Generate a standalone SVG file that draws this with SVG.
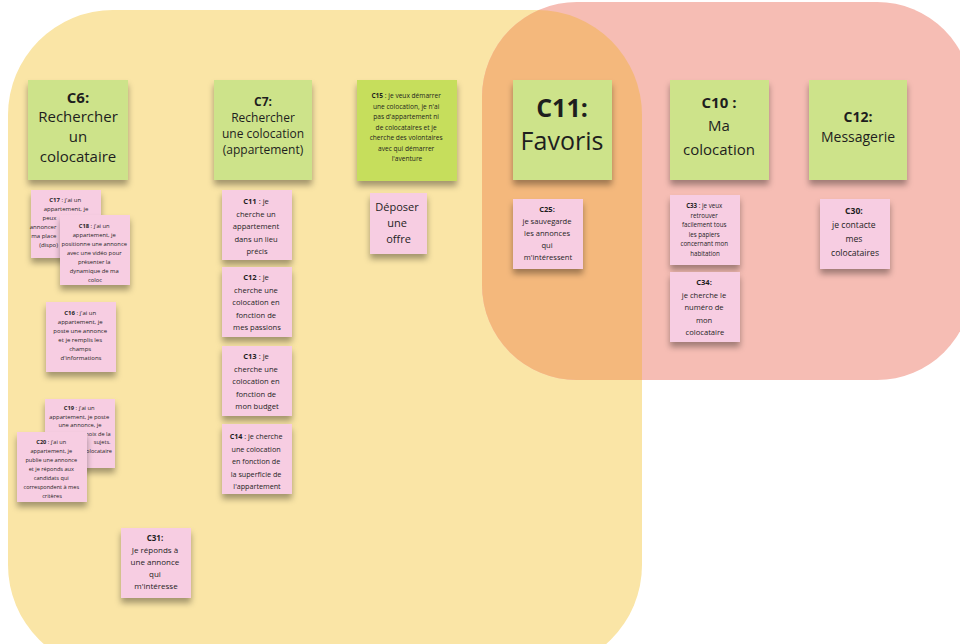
<svg xmlns="http://www.w3.org/2000/svg" width="960" height="644" viewBox="0 0 960 644">
  <defs>
    <style>
      text { font-family: "Open Sans", "Noto Sans", "Liberation Sans", sans-serif; fill: #1e1e1e; text-anchor: middle; }
      .green { fill: #cde38a; }
      .lime { fill: #c6de5c; }
      .pink { fill: #f7cde2; }
      .b { font-weight: 700; }
    </style>
    <filter id="shadow" x="-20%" y="-20%" width="140%" height="150%">
      <feDropShadow dx="0" dy="5" stdDeviation="3" flood-color="#000" flood-opacity="0.35"/>
    </filter>
    <clipPath id="yellowClip">
      <rect x="8" y="10" width="634" height="660" rx="105"/>
    </clipPath>
  </defs>

  <rect width="960" height="644" fill="#ffffff"/>

  <!-- zones -->
  <g id="zones">
    <rect id="zone-search" x="8" y="10" width="634" height="660" rx="105" fill="#fae5a6"/>
    <rect id="zone-coloc" x="482" y="2" width="490" height="378" rx="95" fill="#f6bdb4"/>
    <rect x="482" y="2" width="490" height="378" rx="95" fill="#f4b87c" clip-path="url(#yellowClip)"/>
  </g>

  <!-- headline notes -->
  <g id="c6">
    <rect class="green" x="28" y="80" width="100" height="100" filter="url(#shadow)"/>
    <text x="78" y="103" font-size="15" class="b">C6:</text>
    <text x="78" y="122" font-size="15">Rechercher</text>
    <text x="78" y="142" font-size="15">un</text>
    <text x="78" y="162" font-size="15">colocataire</text>
  </g>
  <g id="c7">
    <rect class="green" x="214" y="80" width="98" height="100" filter="url(#shadow)"/>
    <text x="263" y="106" font-size="12" class="b">C7:</text>
    <text x="263" y="122" font-size="12">Rechercher</text>
    <text x="263" y="138" font-size="12">une colocation</text>
    <text x="263" y="154" font-size="12">(appartement)</text>
  </g>
  <g id="c15">
    <rect class="lime" x="357" y="80" width="100" height="101" filter="url(#shadow)"/>
    <text font-size="6.6">
      <tspan x="407" y="98"><tspan class="b">C15</tspan> : je veux démarrer</tspan>
      <tspan x="407" y="108.5">une colocation, je n'ai</tspan>
      <tspan x="407" y="119">pas d'appartement ni</tspan>
      <tspan x="407" y="129.5">de colocataires et je</tspan>
      <tspan x="407" y="140">cherche des volontaires</tspan>
      <tspan x="407" y="150.5">avec qui démarrer</tspan>
      <tspan x="407" y="161">l'aventure</tspan>
    </text>
  </g>
  <g id="c11">
    <rect class="green" x="513" y="80" width="99" height="100" filter="url(#shadow)"/>
    <text x="562" y="117" font-size="25" class="b">C11:</text>
    <text x="562" y="150" font-size="25">Favoris</text>
  </g>
  <g id="c10">
    <rect class="green" x="670" y="80" width="99" height="100" filter="url(#shadow)"/>
    <text x="719" y="108" font-size="15" class="b">C10 :</text>
    <text x="719" y="131" font-size="15">Ma</text>
    <text x="719" y="155" font-size="15">colocation</text>
  </g>
  <g id="c12">
    <rect class="green" x="809" y="80" width="98" height="100" filter="url(#shadow)"/>
    <text x="858" y="122" font-size="14" class="b">C12:</text>
    <text x="858" y="142" font-size="14">Messagerie</text>
  </g>

  <!-- user stories: owner column (C18 and C20 lie over C17 and C19) -->
  <g id="us-c17">
    <rect class="pink" x="31" y="190" width="70" height="68" filter="url(#shadow)"/>
    <text font-size="6">
      <tspan x="66" y="202"><tspan class="b">C17</tspan> : j'ai un</tspan>
      <tspan x="66" y="211">appartement, je</tspan>
    </text>
    <text font-size="6" style="text-anchor:end">
      <tspan x="58" y="220">peux</tspan>
      <tspan x="58" y="229">annoncer</tspan>
      <tspan x="58" y="238">ma place</tspan>
      <tspan x="58" y="247">(dispo)</tspan>
    </text>
  </g>
  <g id="us-c18">
    <rect class="pink" x="60" y="215" width="70" height="70" filter="url(#shadow)"/>
    <text font-size="5.8">
      <tspan x="95" y="228"><tspan class="b">C18</tspan> : j'ai un</tspan>
      <tspan x="95" y="237">appartement, je</tspan>
      <tspan x="95" y="246">positionne une annonce</tspan>
      <tspan x="95" y="255">avec une vidéo pour</tspan>
      <tspan x="95" y="264">présenter la</tspan>
      <tspan x="95" y="273">dynamique de ma</tspan>
      <tspan x="95" y="282">coloc</tspan>
    </text>
  </g>
  <g id="us-c16">
    <rect class="pink" x="46" y="302" width="70" height="70" filter="url(#shadow)"/>
    <text font-size="6">
      <tspan x="81" y="315"><tspan class="b">C16</tspan> : j'ai un</tspan>
      <tspan x="81" y="324">appartement, je</tspan>
      <tspan x="81" y="333">poste une annonce</tspan>
      <tspan x="81" y="342">et je remplis les</tspan>
      <tspan x="81" y="351">champs</tspan>
      <tspan x="81" y="360">d'informations</tspan>
    </text>
  </g>
  <g id="us-c19">
    <rect class="pink" x="45" y="399" width="70" height="69" filter="url(#shadow)"/>
    <text font-size="5.8">
      <tspan x="80" y="410"><tspan class="b">C19</tspan> : j'ai un</tspan>
      <tspan x="80" y="418.5">appartement, je poste</tspan>
      <tspan x="80" y="427">une annonce, je</tspan>
    </text>
    <text font-size="5.6" style="text-anchor:end">
      <tspan x="112" y="435.5">choix de la</tspan>
      <tspan x="112" y="444">sujets.</tspan>
      <tspan x="112" y="452.5">colocataire</tspan>
    </text>
  </g>
  <g id="us-c20">
    <rect class="pink" x="17" y="432" width="70" height="70" filter="url(#shadow)"/>
    <text font-size="5.6">
      <tspan x="52" y="444"><tspan class="b">C20</tspan> : j'ai un</tspan>
      <tspan x="52" y="453">appartement, je</tspan>
      <tspan x="52" y="462">publie une annonce</tspan>
      <tspan x="52" y="471">et je réponds aux</tspan>
      <tspan x="52" y="480">candidats qui</tspan>
      <tspan x="52" y="489">correspondent à mes</tspan>
      <tspan x="52" y="498">critères</tspan>
    </text>
  </g>
  <g id="us-c31">
    <rect class="pink" x="121" y="528" width="70" height="70" filter="url(#shadow)"/>
    <text font-size="8">
      <tspan x="156" y="541" class="b">C31:</tspan>
      <tspan x="156" y="553">Je réponds à</tspan>
      <tspan x="156" y="565">une annonce</tspan>
      <tspan x="156" y="577">qui</tspan>
      <tspan x="156" y="589">m'intéresse</tspan>
    </text>
  </g>

  <!-- user stories: seeker column -->
  <g id="us-c11">
    <rect class="pink" x="222" y="190" width="70" height="70" filter="url(#shadow)"/>
    <text font-size="7.6">
      <tspan x="257" y="204"><tspan class="b">C11</tspan> : je</tspan>
      <tspan x="257" y="216.5">cherche un</tspan>
      <tspan x="257" y="229">appartement</tspan>
      <tspan x="257" y="241.5">dans un lieu</tspan>
      <tspan x="257" y="254">précis</tspan>
    </text>
  </g>
  <g id="us-c12">
    <rect class="pink" x="222" y="267" width="70" height="70" filter="url(#shadow)"/>
    <text font-size="7.6">
      <tspan x="257" y="280"><tspan class="b">C12</tspan> : je</tspan>
      <tspan x="257" y="292.5">cherche une</tspan>
      <tspan x="257" y="305">colocation en</tspan>
      <tspan x="257" y="317.5">fonction de</tspan>
      <tspan x="257" y="330">mes passions</tspan>
    </text>
  </g>
  <g id="us-c13">
    <rect class="pink" x="222" y="346" width="70" height="70" filter="url(#shadow)"/>
    <text font-size="7.6">
      <tspan x="257" y="359"><tspan class="b">C13</tspan> : je</tspan>
      <tspan x="257" y="371.5">cherche une</tspan>
      <tspan x="257" y="384">colocation en</tspan>
      <tspan x="257" y="396.5">fonction de</tspan>
      <tspan x="257" y="409">mon budget</tspan>
    </text>
  </g>
  <g id="us-c14">
    <rect class="pink" x="222" y="424" width="70" height="70" filter="url(#shadow)"/>
    <text font-size="7.2">
      <tspan x="257" y="439"><tspan class="b">C14</tspan> : je cherche</tspan>
      <tspan x="257" y="451.5">une colocation</tspan>
      <tspan x="257" y="464">en fonction de</tspan>
      <tspan x="257" y="476.5">la superficie de</tspan>
      <tspan x="257" y="489">l'appartement</tspan>
    </text>
  </g>
  <g id="us-offre">
    <rect class="pink" x="370" y="193" width="57" height="61" filter="url(#shadow)"/>
    <text font-size="11">
      <tspan x="398.5" y="211">Déposer</tspan>
      <tspan x="398.5" y="227">une</tspan>
      <tspan x="398.5" y="243">offre</tspan>
    </text>
  </g>

  <!-- user stories: favourites / my flatshare / messaging -->
  <g id="us-c25">
    <rect class="pink" x="513" y="199" width="70" height="70" filter="url(#shadow)"/>
    <text font-size="7.6">
      <tspan x="548" y="212" class="b">C25:</tspan>
      <tspan x="548" y="224">je sauvegarde</tspan>
      <tspan x="548" y="236">les annonces</tspan>
      <tspan x="548" y="248">qui</tspan>
      <tspan x="548" y="260">m'intéressent</tspan>
    </text>
  </g>
  <g id="us-c33">
    <rect class="pink" x="670" y="195" width="70" height="70" filter="url(#shadow)"/>
    <text font-size="6.2">
      <tspan x="705" y="208"><tspan class="b">C33</tspan> : je veux</tspan>
      <tspan x="705" y="217.5">retrouver</tspan>
      <tspan x="705" y="227">facilement tous</tspan>
      <tspan x="705" y="236.5">les papiers</tspan>
      <tspan x="705" y="246">concernant mon</tspan>
      <tspan x="705" y="255.5">habitation</tspan>
    </text>
  </g>
  <g id="us-c34">
    <rect class="pink" x="670" y="272" width="70" height="70" filter="url(#shadow)"/>
    <text font-size="7.6">
      <tspan x="705" y="285" class="b">C34:</tspan>
      <tspan x="705" y="297.5">je cherche le</tspan>
      <tspan x="705" y="310">numéro de</tspan>
      <tspan x="705" y="322.5">mon</tspan>
      <tspan x="705" y="335">colocataire</tspan>
    </text>
  </g>
  <g id="us-c30">
    <rect class="pink" x="820" y="199" width="70" height="70" filter="url(#shadow)"/>
    <text font-size="8.6">
      <tspan x="855" y="214" class="b">C30:</tspan>
      <tspan x="855" y="228">je contacte</tspan>
      <tspan x="855" y="242">mes</tspan>
      <tspan x="855" y="256">colocataires</tspan>
    </text>
  </g>
</svg>
